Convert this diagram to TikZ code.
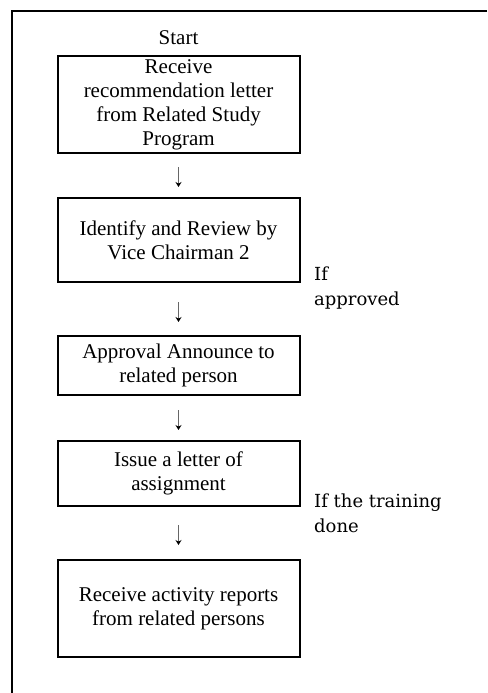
\documentclass[tikz,border=0pt]{standalone}
\usepackage{fontspec}
\setmainfont{Liberation Serif}
\newfontfamily\notefont{DejaVu Serif}
\usetikzlibrary{arrows.meta}

\begin{document}
\begin{tikzpicture}[x=1pt, y=-1pt,
    stepbox/.style={draw, line width=2pt, minimum width=242, inner sep=0pt, align=center,
        font=\fontsize{21}{24}\selectfont},
    flow/.style={draw=black!60, line width=1pt, -{Stealth[length=5pt, width=6pt, black]}},
    note/.style={anchor=base west, inner sep=0pt, align=left, font=\notefont\fontsize{18}{25}\selectfont}]
    \useasboundingbox (0,0) rectangle (487,693);

    %outer frame
        \draw[line width=2pt] (487,11) -- (12,11) -- (12,693);

    %steps
        \node[inner sep=0pt, anchor=base, font=\fontsize{21}{24}\selectfont] (start) at (178.5,45) {Start};
        \node[stepbox, minimum height=97] (receive) at (178.5,104.5) {Receive\\recommendation letter\\from Related Study\\Program};
        \node[stepbox, minimum height=84] (review) at (178.5,240) {Identify and Review by\\Vice Chairman 2};
        \node[stepbox, minimum height=59] (announce) at (178.5,365.5) {Approval Announce to\\related person};
        \node[stepbox, minimum height=65] (assign) at (178.5,473.5) {Issue a letter of\\assignment};
        \node[stepbox, minimum height=97] (report) at (178.5,608.5) {Receive activity reports\\from related persons};

    %conditions
        \node[note] (approved) at (314,305) {If\\approved};
        \node[note] (trained) at (314,532) {If the training\\done};

    %arrows
        \draw[flow, shorten <=13, shorten >=10] (receive) -- (review);
        \draw[flow, shorten <=19, shorten >=13] (review) -- (announce);
        \draw[flow, shorten <=14, shorten >=10] (announce) -- (assign);
        \draw[flow, shorten <=18, shorten >=14] (assign) -- (report);
\end{tikzpicture}
\end{document}
